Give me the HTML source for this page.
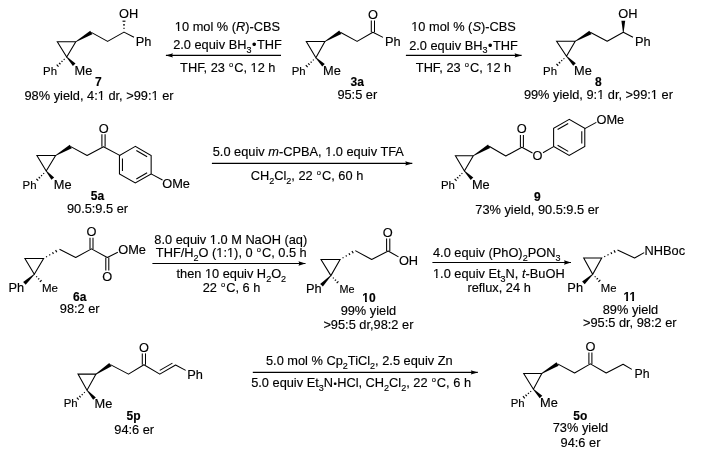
<!DOCTYPE html>
<html><head><meta charset="utf-8"><style>
html,body{margin:0;padding:0;background:#fff;width:708px;height:456px;overflow:hidden}
svg{display:block;will-change:transform}
text{font-family:"Liberation Sans",sans-serif;fill:#000;stroke:#000;stroke-width:0.15px}
</style></head><body>
<svg width="708" height="456" viewBox="0 0 708 456">
<rect width="708" height="456" fill="#fff"/>
<polygon points="57.30,41.70 75.80,41.70 66.70,57.00" fill="none" stroke="#000" stroke-width="1.05" stroke-linejoin="miter"/>
<polygon points="75.98,42.00 92.35,34.16 90.25,30.64 75.62,41.40" fill="#000"/>
<line x1="63.78" y1="59.00" x2="64.53" y2="59.80" stroke="#000" stroke-width="1.15"/>
<line x1="61.50" y1="60.96" x2="62.44" y2="61.95" stroke="#000" stroke-width="1.15"/>
<line x1="59.10" y1="62.79" x2="60.47" y2="64.24" stroke="#000" stroke-width="1.15"/>
<line x1="56.70" y1="64.62" x2="58.50" y2="66.53" stroke="#000" stroke-width="1.15"/>
<polygon points="66.45,57.24 72.90,66.05 75.50,63.55 66.95,56.76" fill="#000"/>
<polyline points="91.30,32.40 107.60,41.40 124.00,32.10 134.00,37.20" fill="none" stroke="#000" stroke-width="1.05" stroke-linejoin="round"/>
<line x1="124.55" y1="28.40" x2="123.45" y2="28.40" stroke="#000" stroke-width="1.15"/>
<line x1="124.97" y1="24.80" x2="123.03" y2="24.80" stroke="#000" stroke-width="1.15"/>
<line x1="125.45" y1="21.20" x2="122.55" y2="21.20" stroke="#000" stroke-width="1.15"/>
<text x="128.60" y="18.20" text-anchor="middle" font-size="12.8">OH</text>
<text x="143.50" y="46.00" text-anchor="middle" font-size="12.8">Ph</text>
<text x="57.00" y="74.80" text-anchor="end" font-size="11.4">Ph</text>
<text x="83.40" y="74.60" text-anchor="middle" font-size="12.8">Me</text>
<text x="98.40" y="85.60" text-anchor="middle" font-size="12.0" font-weight="bold">7</text>
<text x="99.00" y="99.50" text-anchor="middle" font-size="12.8">98% yield, 4:1 dr, &gt;99:1 er</text>
<polyline points="165.90,55.40 281.00,55.40" fill="none" stroke="#000" stroke-width="1.1" stroke-linejoin="round"/>
<polygon points="165.90,55.40 172.90,53.20 172.06,55.40 172.90,57.60" fill="#000"/>
<text x="227.50" y="31.10" text-anchor="middle" font-size="12.8">10 mol % (<tspan font-style="italic">R</tspan>)-CBS</text>
<text x="227.50" y="49.30" text-anchor="middle" font-size="12.8">2.0 equiv BH<tspan font-size="9" dy="3.5">3</tspan><tspan dy="-3.5">​</tspan><tspan dx="0.5">•</tspan><tspan dx="0.5">THF</tspan></text>
<text x="227.80" y="72.20" text-anchor="middle" font-size="12.8">THF, 23 <tspan font-size="7.6" dy="-4.8" dx="0.5">o</tspan><tspan dy="4.8" dx="1.0">C</tspan>, 12 h</text>
<polygon points="306.30,41.50 324.90,41.50 315.90,57.70" fill="none" stroke="#000" stroke-width="1.05" stroke-linejoin="miter"/>
<polygon points="325.08,41.80 341.35,34.06 339.25,30.54 324.72,41.20" fill="#000"/>
<line x1="312.96" y1="59.67" x2="313.70" y2="60.48" stroke="#000" stroke-width="1.15"/>
<line x1="310.66" y1="61.60" x2="311.59" y2="62.62" stroke="#000" stroke-width="1.15"/>
<line x1="308.24" y1="63.40" x2="309.60" y2="64.88" stroke="#000" stroke-width="1.15"/>
<line x1="305.82" y1="65.21" x2="307.61" y2="67.15" stroke="#000" stroke-width="1.15"/>
<polygon points="315.65,57.95 322.23,66.57 324.77,64.03 316.15,57.45" fill="#000"/>
<polyline points="340.30,32.30 357.10,41.40 372.90,32.20 383.00,37.40" fill="none" stroke="#000" stroke-width="1.05" stroke-linejoin="round"/>
<polyline points="374.50,32.20 374.50,20.50" fill="none" stroke="#000" stroke-width="1.05" stroke-linejoin="round"/>
<polyline points="371.30,32.20 371.30,20.50" fill="none" stroke="#000" stroke-width="1.05" stroke-linejoin="round"/>
<text x="372.90" y="18.80" text-anchor="middle" font-size="12.8">O</text>
<text x="392.90" y="46.00" text-anchor="middle" font-size="12.8">Ph</text>
<text x="305.70" y="74.60" text-anchor="end" font-size="11.4">Ph</text>
<text x="331.90" y="74.80" text-anchor="middle" font-size="12.8">Me</text>
<text x="357.30" y="85.70" text-anchor="middle" font-size="12.0" font-weight="bold">3a</text>
<text x="357.30" y="99.00" text-anchor="middle" font-size="12.8">95:5 er</text>
<polyline points="405.90,55.40 521.60,55.40" fill="none" stroke="#000" stroke-width="1.1" stroke-linejoin="round"/>
<polygon points="521.60,55.40 514.60,53.20 515.44,55.40 514.60,57.60" fill="#000"/>
<text x="463.50" y="31.20" text-anchor="middle" font-size="12.8">10 mol % (<tspan font-style="italic">S</tspan>)-CBS</text>
<text x="463.50" y="49.50" text-anchor="middle" font-size="12.8">2.0 equiv BH<tspan font-size="9" dy="3.5">3</tspan><tspan dy="-3.5">​</tspan><tspan dx="0.5">•</tspan><tspan dx="0.5">THF</tspan></text>
<text x="463.50" y="71.50" text-anchor="middle" font-size="12.8">THF, 23 <tspan font-size="7.6" dy="-4.8" dx="0.5">o</tspan><tspan dy="4.8" dx="1.0">C</tspan>, 12 h</text>
<polygon points="556.60,41.20 575.20,41.20 566.50,56.30" fill="none" stroke="#000" stroke-width="1.05" stroke-linejoin="miter"/>
<polygon points="575.38,41.50 591.43,34.17 589.37,30.63 575.02,40.90" fill="#000"/>
<line x1="563.56" y1="58.27" x2="564.30" y2="59.08" stroke="#000" stroke-width="1.15"/>
<line x1="561.26" y1="60.21" x2="562.19" y2="61.21" stroke="#000" stroke-width="1.15"/>
<line x1="558.85" y1="62.01" x2="560.20" y2="63.48" stroke="#000" stroke-width="1.15"/>
<line x1="556.43" y1="63.82" x2="558.21" y2="65.75" stroke="#000" stroke-width="1.15"/>
<polygon points="566.25,56.54 573.21,65.76 575.79,63.24 566.75,56.06" fill="#000"/>
<polyline points="590.20,32.30 607.20,41.20 623.30,32.30 633.00,37.20" fill="none" stroke="#000" stroke-width="1.05" stroke-linejoin="round"/>
<polygon points="623.65,32.30 625.20,20.80 621.40,20.80 622.95,32.30" fill="#000"/>
<text x="627.90" y="18.10" text-anchor="middle" font-size="12.8">OH</text>
<text x="642.80" y="46.00" text-anchor="middle" font-size="12.8">Ph</text>
<text x="557.00" y="74.60" text-anchor="end" font-size="11.4">Ph</text>
<text x="583.00" y="74.80" text-anchor="middle" font-size="12.8">Me</text>
<text x="598.40" y="86.30" text-anchor="middle" font-size="12.0" font-weight="bold">8</text>
<text x="598.40" y="99.30" text-anchor="middle" font-size="12.8">99% yield, 9:1 dr, &gt;99:1 er</text>
<polygon points="36.90,155.50 55.60,155.50 46.20,171.00" fill="none" stroke="#000" stroke-width="1.05" stroke-linejoin="miter"/>
<polygon points="55.78,155.80 71.84,148.37 69.76,144.83 55.42,155.20" fill="#000"/>
<line x1="43.32" y1="173.06" x2="44.09" y2="173.84" stroke="#000" stroke-width="1.15"/>
<line x1="41.08" y1="175.06" x2="42.04" y2="176.04" stroke="#000" stroke-width="1.15"/>
<line x1="38.72" y1="176.94" x2="40.11" y2="178.36" stroke="#000" stroke-width="1.15"/>
<line x1="36.36" y1="178.81" x2="38.19" y2="180.69" stroke="#000" stroke-width="1.15"/>
<polygon points="45.93,171.23 51.43,179.87 54.17,177.53 46.47,170.77" fill="#000"/>
<polyline points="70.80,146.60 87.10,155.50 103.50,146.80 120.20,155.60" fill="none" stroke="#000" stroke-width="1.05" stroke-linejoin="round"/>
<polyline points="105.10,146.80 105.10,134.20" fill="none" stroke="#000" stroke-width="1.05" stroke-linejoin="round"/>
<polyline points="101.90,146.80 101.90,134.20" fill="none" stroke="#000" stroke-width="1.05" stroke-linejoin="round"/>
<text x="103.80" y="133.00" text-anchor="middle" font-size="12.8">O</text>
<polygon points="135.30,146.40 119.45,155.55 119.45,173.85 135.30,183.00 151.15,173.85 151.15,155.55" fill="none" stroke="#000" stroke-width="1.05" stroke-linejoin="miter"/>
<polyline points="122.45,158.48 122.45,170.92" fill="none" stroke="#000" stroke-width="1.05" stroke-linejoin="round"/>
<polyline points="136.34,178.94 147.11,172.72" fill="none" stroke="#000" stroke-width="1.05" stroke-linejoin="round"/>
<polyline points="147.11,156.68 136.34,150.46" fill="none" stroke="#000" stroke-width="1.05" stroke-linejoin="round"/>
<polyline points="151.10,173.85 162.50,180.00" fill="none" stroke="#000" stroke-width="1.05" stroke-linejoin="round"/>
<text x="162.20" y="188.00" text-anchor="start" font-size="12.8">OMe</text>
<text x="36.50" y="188.50" text-anchor="end" font-size="11.4">Ph</text>
<text x="62.70" y="188.80" text-anchor="middle" font-size="12.8">Me</text>
<text x="97.50" y="200.00" text-anchor="middle" font-size="12.0" font-weight="bold">5a</text>
<text x="97.50" y="213.00" text-anchor="middle" font-size="12.8">90.5:9.5 er</text>
<polyline points="211.90,163.40 412.30,163.40" fill="none" stroke="#000" stroke-width="1.1" stroke-linejoin="round"/>
<polygon points="412.30,163.40 405.30,161.20 406.14,163.40 405.30,165.60" fill="#000"/>
<text x="308.30" y="155.70" text-anchor="middle" font-size="12.8">5.0 equiv <tspan font-style="italic">m</tspan>-CPBA, 1.0 equiv TFA</text>
<text x="307.00" y="180.20" text-anchor="middle" font-size="12.8">CH<tspan font-size="9" dy="3.5">2</tspan><tspan dy="-3.5">​</tspan>Cl<tspan font-size="9" dy="3.5">2</tspan><tspan dy="-3.5">​</tspan>, 22 <tspan font-size="7.6" dy="-4.8" dx="0.5">o</tspan><tspan dy="4.8" dx="1.0">C</tspan>, 60 h</text>
<polygon points="455.40,155.80 473.30,155.80 464.40,171.00" fill="none" stroke="#000" stroke-width="1.05" stroke-linejoin="miter"/>
<polygon points="473.48,156.10 490.16,148.06 488.04,144.54 473.12,155.50" fill="#000"/>
<line x1="461.55" y1="173.10" x2="462.33" y2="173.87" stroke="#000" stroke-width="1.15"/>
<line x1="459.33" y1="175.13" x2="460.32" y2="176.11" stroke="#000" stroke-width="1.15"/>
<line x1="457.00" y1="177.04" x2="458.44" y2="178.46" stroke="#000" stroke-width="1.15"/>
<line x1="454.66" y1="178.95" x2="456.55" y2="180.82" stroke="#000" stroke-width="1.15"/>
<polygon points="464.15,171.24 470.71,180.06 473.29,177.54 464.65,170.76" fill="#000"/>
<polyline points="489.10,146.30 505.80,156.00 521.90,147.20 532.50,153.00" fill="none" stroke="#000" stroke-width="1.05" stroke-linejoin="round"/>
<polyline points="523.40,147.20 523.40,134.90" fill="none" stroke="#000" stroke-width="1.05" stroke-linejoin="round"/>
<polyline points="520.40,147.20 520.40,134.90" fill="none" stroke="#000" stroke-width="1.05" stroke-linejoin="round"/>
<text x="521.70" y="132.80" text-anchor="middle" font-size="12.8">O</text>
<text x="537.50" y="160.10" text-anchor="middle" font-size="12.8">O</text>
<polyline points="543.00,152.80 553.60,146.60" fill="none" stroke="#000" stroke-width="1.05" stroke-linejoin="round"/>
<polygon points="569.20,119.40 553.61,128.40 553.61,146.40 569.20,155.40 584.79,146.40 584.79,128.40" fill="none" stroke="#000" stroke-width="1.05" stroke-linejoin="miter"/>
<polyline points="568.21,123.44 557.61,129.56" fill="none" stroke="#000" stroke-width="1.05" stroke-linejoin="round"/>
<polyline points="557.61,145.24 568.21,151.36" fill="none" stroke="#000" stroke-width="1.05" stroke-linejoin="round"/>
<polyline points="581.79,143.52 581.79,131.28" fill="none" stroke="#000" stroke-width="1.05" stroke-linejoin="round"/>
<polyline points="584.80,128.60 596.30,122.40" fill="none" stroke="#000" stroke-width="1.05" stroke-linejoin="round"/>
<text x="596.50" y="124.30" text-anchor="start" font-size="12.8">OMe</text>
<text x="454.90" y="188.60" text-anchor="end" font-size="11.4">Ph</text>
<text x="480.80" y="189.30" text-anchor="middle" font-size="12.8">Me</text>
<text x="537.30" y="200.80" text-anchor="middle" font-size="12.0" font-weight="bold">9</text>
<text x="537.20" y="214.40" text-anchor="middle" font-size="12.8">73% yield, 90.5:9.5 er</text>
<polygon points="24.90,258.40 43.60,258.40 34.30,274.20" fill="none" stroke="#000" stroke-width="1.05" stroke-linejoin="miter"/>
<line x1="46.82" y1="257.19" x2="46.28" y2="256.23" stroke="#000" stroke-width="1.15"/>
<line x1="50.07" y1="255.41" x2="49.45" y2="254.34" stroke="#000" stroke-width="1.15"/>
<line x1="53.44" y1="253.85" x2="52.50" y2="252.22" stroke="#000" stroke-width="1.15"/>
<line x1="56.81" y1="252.30" x2="55.56" y2="250.10" stroke="#000" stroke-width="1.15"/>
<polygon points="34.06,273.94 23.11,281.90 25.69,284.70 34.54,274.46" fill="#000"/>
<line x1="36.22" y1="277.06" x2="37.03" y2="276.30" stroke="#000" stroke-width="1.15"/>
<line x1="38.08" y1="279.43" x2="39.27" y2="278.31" stroke="#000" stroke-width="1.15"/>
<line x1="39.85" y1="281.88" x2="41.60" y2="280.24" stroke="#000" stroke-width="1.15"/>
<polyline points="59.50,249.30 75.70,257.50 91.50,248.90 107.30,257.50 117.80,252.30" fill="none" stroke="#000" stroke-width="1.05" stroke-linejoin="round"/>
<polyline points="93.00,248.90 93.00,237.80" fill="none" stroke="#000" stroke-width="1.05" stroke-linejoin="round"/>
<polyline points="90.00,248.90 90.00,237.80" fill="none" stroke="#000" stroke-width="1.05" stroke-linejoin="round"/>
<polyline points="105.80,257.50 105.80,270.60" fill="none" stroke="#000" stroke-width="1.05" stroke-linejoin="round"/>
<polyline points="108.80,257.50 108.80,270.60" fill="none" stroke="#000" stroke-width="1.05" stroke-linejoin="round"/>
<text x="91.50" y="235.80" text-anchor="middle" font-size="12.8">O</text>
<text x="107.30" y="281.20" text-anchor="middle" font-size="12.8">O</text>
<text x="118.20" y="254.30" text-anchor="start" font-size="12.8">OMe</text>
<text x="16.40" y="291.80" text-anchor="middle" font-size="12.8">Ph</text>
<text x="49.90" y="291.60" text-anchor="middle" font-size="11.5">Me</text>
<text x="79.70" y="300.60" text-anchor="middle" font-size="12.0" font-weight="bold">6a</text>
<text x="79.70" y="312.80" text-anchor="middle" font-size="12.8">98:2 er</text>
<polyline points="152.40,263.50 305.50,263.50" fill="none" stroke="#000" stroke-width="1.1" stroke-linejoin="round"/>
<polygon points="305.50,263.50 298.50,261.30 299.34,263.50 298.50,265.70" fill="#000"/>
<text x="230.80" y="243.70" text-anchor="middle" font-size="12.8">8.0 equiv 1.0 M NaOH (aq)</text>
<text x="231.30" y="257.30" text-anchor="middle" font-size="12.8">THF/H<tspan font-size="9" dy="3.5">2</tspan><tspan dy="-3.5">​</tspan>O (1:1), 0 <tspan font-size="7.6" dy="-4.8" dx="0.5">o</tspan><tspan dy="4.8" dx="1.0">C</tspan>, 0.5 h</text>
<text x="231.30" y="278.30" text-anchor="middle" font-size="12.8">then 10 equiv H<tspan font-size="9" dy="3.5">2</tspan><tspan dy="-3.5">​</tspan>O<tspan font-size="9" dy="3.5">2</tspan><tspan dy="-3.5">​</tspan></text>
<text x="231.50" y="292.10" text-anchor="middle" font-size="12.8">22 <tspan font-size="7.6" dy="-4.8" dx="0.5">o</tspan><tspan dy="4.8" dx="1.0">C</tspan>, 6 h</text>
<polygon points="321.00,259.50 340.10,259.50 330.90,275.60" fill="none" stroke="#000" stroke-width="1.05" stroke-linejoin="miter"/>
<line x1="343.31" y1="258.26" x2="342.76" y2="257.31" stroke="#000" stroke-width="1.15"/>
<line x1="346.55" y1="256.47" x2="345.90" y2="255.36" stroke="#000" stroke-width="1.15"/>
<line x1="349.92" y1="254.89" x2="348.92" y2="253.20" stroke="#000" stroke-width="1.15"/>
<line x1="353.28" y1="253.31" x2="351.95" y2="251.04" stroke="#000" stroke-width="1.15"/>
<polygon points="330.65,275.36 320.14,283.98 322.86,286.62 331.15,275.84" fill="#000"/>
<line x1="332.92" y1="278.39" x2="333.69" y2="277.62" stroke="#000" stroke-width="1.15"/>
<line x1="334.84" y1="280.71" x2="336.01" y2="279.54" stroke="#000" stroke-width="1.15"/>
<line x1="336.69" y1="283.10" x2="338.40" y2="281.39" stroke="#000" stroke-width="1.15"/>
<polyline points="355.30,250.60 371.70,259.50 388.20,251.00 398.50,256.90" fill="none" stroke="#000" stroke-width="1.05" stroke-linejoin="round"/>
<polyline points="389.80,251.00 389.80,238.50" fill="none" stroke="#000" stroke-width="1.05" stroke-linejoin="round"/>
<polyline points="386.60,251.00 386.60,238.50" fill="none" stroke="#000" stroke-width="1.05" stroke-linejoin="round"/>
<text x="387.70" y="237.00" text-anchor="middle" font-size="12.8">O</text>
<text x="408.50" y="265.40" text-anchor="middle" font-size="12.8">OH</text>
<text x="313.90" y="293.20" text-anchor="middle" font-size="12.8">Ph</text>
<text x="347.10" y="293.20" text-anchor="middle" font-size="10.8">Me</text>
<text x="369.00" y="301.70" text-anchor="middle" font-size="12.0" font-weight="bold">10</text>
<text x="368.40" y="314.50" text-anchor="middle" font-size="12.8">99% yield</text>
<text x="368.40" y="328.50" text-anchor="middle" font-size="12.8">&gt;95:5 dr,98:2 er</text>
<polyline points="432.40,262.50 571.00,262.50" fill="none" stroke="#000" stroke-width="1.1" stroke-linejoin="round"/>
<polygon points="571.00,262.50 564.00,260.30 564.84,262.50 564.00,264.70" fill="#000"/>
<text x="433.00" y="257.30" text-anchor="start" font-size="12.8">4.0 equiv (PhO)<tspan font-size="9" dy="3.5">2</tspan><tspan dy="-3.5">​</tspan>PON<tspan font-size="9" dy="3.5">3</tspan><tspan dy="-3.5">​</tspan></text>
<text x="433.00" y="278.30" text-anchor="start" font-size="12.8">1.0 equiv Et<tspan font-size="9" dy="3.5">3</tspan><tspan dy="-3.5">​</tspan>N, <tspan font-style="italic">t</tspan>-BuOH</text>
<text x="499.10" y="291.90" text-anchor="middle" font-size="12.8">reflux, 24 h</text>
<polygon points="583.70,258.00 601.70,258.00 592.70,274.30" fill="none" stroke="#000" stroke-width="1.05" stroke-linejoin="miter"/>
<line x1="604.98" y1="256.95" x2="604.48" y2="255.97" stroke="#000" stroke-width="1.15"/>
<line x1="608.32" y1="255.37" x2="607.74" y2="254.22" stroke="#000" stroke-width="1.15"/>
<line x1="611.78" y1="253.99" x2="610.89" y2="252.25" stroke="#000" stroke-width="1.15"/>
<line x1="615.23" y1="252.62" x2="614.04" y2="250.28" stroke="#000" stroke-width="1.15"/>
<polygon points="592.46,274.04 582.12,281.40 584.68,284.20 592.94,274.56" fill="#000"/>
<line x1="594.74" y1="277.08" x2="595.51" y2="276.29" stroke="#000" stroke-width="1.15"/>
<line x1="596.60" y1="279.46" x2="597.92" y2="278.12" stroke="#000" stroke-width="1.15"/>
<line x1="598.43" y1="281.88" x2="600.36" y2="279.92" stroke="#000" stroke-width="1.15"/>
<polyline points="617.50,250.00 634.60,258.00 644.20,252.60" fill="none" stroke="#000" stroke-width="1.05" stroke-linejoin="round"/>
<text x="644.60" y="254.80" text-anchor="start" font-size="12.8">NHBoc</text>
<text x="575.20" y="291.70" text-anchor="middle" font-size="12.8">Ph</text>
<text x="608.70" y="291.70" text-anchor="middle" font-size="11.3">Me</text>
<text x="629.80" y="301.00" text-anchor="middle" font-size="12.0" font-weight="bold">11</text>
<text x="630.50" y="313.70" text-anchor="middle" font-size="12.8">89% yield</text>
<text x="629.80" y="326.70" text-anchor="middle" font-size="12.8">&gt;95:5 dr, 98:2 er</text>
<polygon points="78.00,374.10 96.00,374.10 87.00,390.20" fill="none" stroke="#000" stroke-width="1.05" stroke-linejoin="miter"/>
<polygon points="96.19,374.39 111.53,366.31 109.27,362.89 95.81,373.81" fill="#000"/>
<line x1="84.05" y1="392.16" x2="84.79" y2="392.97" stroke="#000" stroke-width="1.15"/>
<line x1="81.74" y1="394.08" x2="82.67" y2="395.09" stroke="#000" stroke-width="1.15"/>
<line x1="79.31" y1="395.87" x2="80.66" y2="397.35" stroke="#000" stroke-width="1.15"/>
<line x1="76.89" y1="397.66" x2="78.66" y2="399.61" stroke="#000" stroke-width="1.15"/>
<polygon points="86.74,390.43 93.16,399.80 95.84,397.40 87.26,389.97" fill="#000"/>
<polyline points="110.40,364.60 128.50,374.10 143.90,364.80 159.80,374.10 175.60,365.00 185.70,370.40" fill="none" stroke="#000" stroke-width="1.05" stroke-linejoin="round"/>
<polyline points="145.50,364.80 145.50,353.40" fill="none" stroke="#000" stroke-width="1.05" stroke-linejoin="round"/>
<polyline points="142.30,364.80 142.30,353.40" fill="none" stroke="#000" stroke-width="1.05" stroke-linejoin="round"/>
<polyline points="159.78,370.42 172.42,363.14" fill="none" stroke="#000" stroke-width="1.05" stroke-linejoin="round"/>
<text x="144.00" y="352.10" text-anchor="middle" font-size="12.8">O</text>
<text x="187.30" y="378.60" text-anchor="start" font-size="12.8">Ph</text>
<text x="77.60" y="406.90" text-anchor="end" font-size="11.4">Ph</text>
<text x="103.50" y="408.00" text-anchor="middle" font-size="12.8">Me</text>
<text x="133.50" y="419.90" text-anchor="middle" font-size="12.0" font-weight="bold">5p</text>
<text x="134.20" y="434.10" text-anchor="middle" font-size="12.8">94:6 er</text>
<polyline points="252.80,372.40 477.80,372.40" fill="none" stroke="#000" stroke-width="1.1" stroke-linejoin="round"/>
<polygon points="477.80,372.40 470.80,370.20 471.64,372.40 470.80,374.60" fill="#000"/>
<text x="359.30" y="365.30" text-anchor="middle" font-size="12.8">5.0 mol % Cp<tspan font-size="9" dy="3.5">2</tspan><tspan dy="-3.5">​</tspan>TiCl<tspan font-size="9" dy="3.5">2</tspan><tspan dy="-3.5">​</tspan>, 2.5 equiv Zn</text>
<text x="361.10" y="387.10" text-anchor="middle" font-size="12.8">5.0 equiv Et<tspan font-size="9" dy="3.5">3</tspan><tspan dy="-3.5">​</tspan>N<tspan font-size="9.5" dx="0.4" dy="-0.6">•</tspan><tspan dy="0.6" dx="0.4">HCl</tspan>, CH<tspan font-size="9" dy="3.5">2</tspan><tspan dy="-3.5">​</tspan>Cl<tspan font-size="9" dy="3.5">2</tspan><tspan dy="-3.5">​</tspan>, 22 <tspan font-size="7.6" dy="-4.8" dx="0.5">o</tspan><tspan dy="4.8" dx="1.0">C</tspan>, 6 h</text>
<polygon points="523.70,373.40 541.80,373.40 533.40,389.20" fill="none" stroke="#000" stroke-width="1.05" stroke-linejoin="miter"/>
<polygon points="541.98,373.70 558.66,365.66 556.54,362.14 541.62,373.10" fill="#000"/>
<line x1="530.37" y1="391.04" x2="531.08" y2="391.88" stroke="#000" stroke-width="1.15"/>
<line x1="527.98" y1="392.85" x2="528.90" y2="393.94" stroke="#000" stroke-width="1.15"/>
<line x1="525.47" y1="394.54" x2="526.82" y2="396.13" stroke="#000" stroke-width="1.15"/>
<line x1="522.97" y1="396.22" x2="524.75" y2="398.32" stroke="#000" stroke-width="1.15"/>
<polygon points="533.15,389.44 539.71,398.26 542.29,395.74 533.65,388.96" fill="#000"/>
<polyline points="557.60,363.90 574.60,373.00 590.40,363.90 606.20,373.00 623.10,364.20 631.80,369.40" fill="none" stroke="#000" stroke-width="1.05" stroke-linejoin="round"/>
<polyline points="591.90,363.90 591.90,352.50" fill="none" stroke="#000" stroke-width="1.05" stroke-linejoin="round"/>
<polyline points="588.90,363.90 588.90,352.50" fill="none" stroke="#000" stroke-width="1.05" stroke-linejoin="round"/>
<text x="590.40" y="350.80" text-anchor="middle" font-size="12.8">O</text>
<text x="634.60" y="377.90" text-anchor="start" font-size="12.3">Ph</text>
<text x="524.70" y="407.00" text-anchor="end" font-size="11.4">Ph</text>
<text x="549.00" y="407.00" text-anchor="middle" font-size="12.8">Me</text>
<text x="580.30" y="419.70" text-anchor="middle" font-size="12.0" font-weight="bold">5o</text>
<text x="580.50" y="432.00" text-anchor="middle" font-size="12.8">73% yield</text>
<text x="580.50" y="446.80" text-anchor="middle" font-size="12.8">94:6 er</text>
<rect x="97.82" y="97.64" width="3.02" height="2.36" fill="#fff"/>
<rect x="102.21" y="97.64" width="2.82" height="2.36" fill="#fff"/>
<rect x="151.54" y="97.64" width="3.02" height="2.36" fill="#fff"/>
<rect x="155.93" y="97.64" width="2.82" height="2.36" fill="#fff"/>
<rect x="174.94" y="29.24" width="3.02" height="2.36" fill="#fff"/>
<rect x="179.34" y="29.24" width="2.82" height="2.36" fill="#fff"/>
<rect x="250.64" y="70.34" width="3.02" height="2.36" fill="#fff"/>
<rect x="255.04" y="70.34" width="2.82" height="2.36" fill="#fff"/>
<rect x="411.29" y="29.34" width="3.02" height="2.36" fill="#fff"/>
<rect x="415.69" y="29.34" width="2.82" height="2.36" fill="#fff"/>
<rect x="486.34" y="69.64" width="3.02" height="2.36" fill="#fff"/>
<rect x="490.74" y="69.64" width="2.82" height="2.36" fill="#fff"/>
<rect x="597.22" y="97.44" width="3.02" height="2.36" fill="#fff"/>
<rect x="601.61" y="97.44" width="2.82" height="2.36" fill="#fff"/>
<rect x="650.94" y="97.44" width="3.02" height="2.36" fill="#fff"/>
<rect x="655.33" y="97.44" width="2.82" height="2.36" fill="#fff"/>
<rect x="325.20" y="153.84" width="3.02" height="2.36" fill="#fff"/>
<rect x="329.60" y="153.84" width="2.82" height="2.36" fill="#fff"/>
<rect x="209.90" y="241.84" width="3.02" height="2.36" fill="#fff"/>
<rect x="214.29" y="241.84" width="2.82" height="2.36" fill="#fff"/>
<rect x="216.41" y="255.44" width="3.02" height="2.36" fill="#fff"/>
<rect x="220.80" y="255.44" width="2.82" height="2.36" fill="#fff"/>
<rect x="227.08" y="255.44" width="3.02" height="2.36" fill="#fff"/>
<rect x="231.47" y="255.44" width="2.82" height="2.36" fill="#fff"/>
<rect x="205.00" y="276.44" width="3.02" height="2.36" fill="#fff"/>
<rect x="209.40" y="276.44" width="2.82" height="2.36" fill="#fff"/>
<rect x="362.18" y="299.58" width="2.82" height="2.62" fill="#fff"/>
<rect x="366.89" y="299.58" width="2.57" height="2.62" fill="#fff"/>
<rect x="433.08" y="276.44" width="3.02" height="2.36" fill="#fff"/>
<rect x="437.47" y="276.44" width="2.82" height="2.36" fill="#fff"/>
<rect x="623.31" y="298.88" width="2.82" height="2.62" fill="#fff"/>
<rect x="628.02" y="298.88" width="2.57" height="2.62" fill="#fff"/>
<rect x="629.31" y="298.88" width="2.82" height="2.62" fill="#fff"/>
<rect x="634.02" y="298.88" width="2.57" height="2.62" fill="#fff"/>
</svg></body></html>
